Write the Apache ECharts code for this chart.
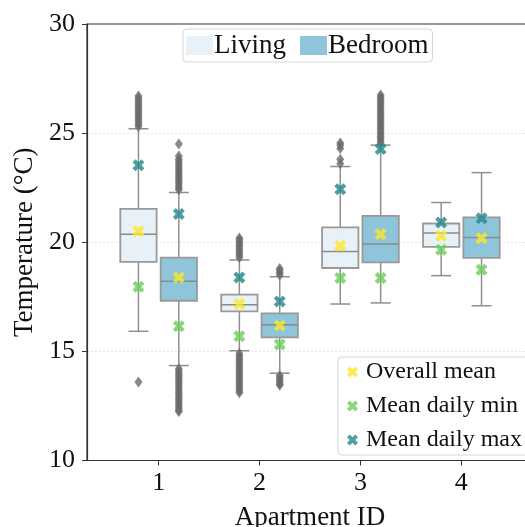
<!DOCTYPE html>
<html>
<head>
<meta charset="utf-8">
<script src="https://cdn.jsdelivr.net/npm/echarts@6/dist/echarts.min.js"></script>
<style>html,body{margin:0;padding:0;background:#fff}#c{width:525px;height:527px}</style>
</head>
<body>
<div id="c"></div>
<script>
const apartments = [1, 2, 3, 4];
const yTicks = [10, 15, 20, 25, 30];
// [lowWhisker, q1, median, q3, highWhisker]
const livingBox = [[15.92, 19.1, 20.37, 21.53, 25.2], [15.03, 16.83, 17.14, 17.6, 19.19], [17.17, 18.82, 19.58, 20.68, 23.47], [18.47, 19.79, 20.42, 20.86, 21.82]];
const bedroomBox = [[14.35, 17.32, 18.21, 19.3, 22.28], [14.0, 15.64, 16.22, 16.74, 18.42], [17.22, 19.08, 19.92, 21.21, 24.45], [17.09, 19.28, 20.22, 21.14, 23.19]];
const livingMean = [20.5, 17.17, 19.84, 20.3];
const bedroomMean = [18.39, 16.18, 20.37, 20.18];
const livingMin = [17.96, 15.69, 18.36, 19.66];
const bedroomMin = [16.15, 15.31, 18.36, 18.74];
const livingMax = [23.53, 18.39, 22.43, 20.91];
const bedroomMax = [21.29, 17.28, 24.27, 21.1];
const livingOutliers = [
  [25.3, 25.4, 25.5, 25.6, 25.7, 25.8, 25.9, 26.0, 26.1, 26.2, 26.3, 26.4, 26.5, 26.6, 26.7, 13.6],
  [19.3, 19.4, 19.5, 19.6, 19.7, 19.8, 19.9, 20.0, 20.1, 20.2, 14.9, 14.8, 14.7, 14.6, 14.5, 14.4, 14.3, 14.2, 14.1, 14.0, 13.9, 13.8, 13.7, 13.6, 13.5, 13.4, 13.3, 13.2, 13.1],
  [23.6, 23.8, 24.3, 24.45, 24.55],
  []
];
const bedroomOutliers = [
  [22.4, 22.5, 22.6, 22.7, 22.8, 22.9, 23.0, 23.1, 23.2, 23.3, 23.4, 23.5, 23.6, 23.7, 23.8, 23.95, 24.5,
   14.2, 14.1, 14.0, 13.9, 13.8, 13.7, 13.6, 13.5, 13.4, 13.3, 13.2, 13.1, 13.0, 12.9, 12.8, 12.7, 12.6, 12.5, 12.4, 12.3, 12.25],
  [18.5, 18.6, 18.7, 18.8, 13.9, 13.8, 13.7, 13.6, 13.5, 13.45],
  [24.55, 24.65, 24.75, 24.85, 24.95, 25.05, 25.15, 25.25, 25.35, 25.45, 25.55, 25.65, 25.75, 25.85, 25.95, 26.05, 26.15, 26.25, 26.35, 26.45, 26.55, 26.65, 26.75],
  []
];

const OFF = 0.2;
const FONT = 'Liberation Serif';
const xPath = 'path://M0,2.5 L2.5,0 L5,2.5 L7.5,0 L10,2.5 L7.5,5 L10,7.5 L7.5,10 L5,7.5 L2.5,10 L0,7.5 L2.5,5 Z';

function boxData(boxes, off) {
  return boxes.map((b, i) => [apartments[i] + off].concat(b));
}
function ptData(vals, off) {
  return vals.map((v, i) => [apartments[i] + off, v]);
}
function outData(lists, off) {
  const out = [];
  lists.forEach((l, i) => l.forEach(v => out.push([apartments[i] + off, v])));
  return out;
}

function renderBox(fill) {
  return function (params, api) {
    const x = api.value(0);
    const lo = api.coord([x, api.value(1)]);
    const q1 = api.coord([x, api.value(2)]);
    const med = api.coord([x, api.value(3)]);
    const q3 = api.coord([x, api.value(4)]);
    const hi = api.coord([x, api.value(5)]);
    const w = api.size([0.36, 0])[0];
    const cap = w * 0.55;
    const cx = q1[0];
    const ls = { stroke: '#8f8f8f', lineWidth: 1.5 };
    return {
      type: 'group',
      children: [
        { type: 'line', shape: { x1: cx, y1: lo[1], x2: cx, y2: q1[1] }, style: ls },
        { type: 'line', shape: { x1: cx, y1: q3[1], x2: cx, y2: hi[1] }, style: ls },
        { type: 'line', shape: { x1: cx - cap / 2, y1: lo[1], x2: cx + cap / 2, y2: lo[1] }, style: ls },
        { type: 'line', shape: { x1: cx - cap / 2, y1: hi[1], x2: cx + cap / 2, y2: hi[1] }, style: ls },
        { type: 'rect', shape: { x: cx - w / 2, y: q3[1], width: w, height: q1[1] - q3[1] },
          style: { fill: fill, stroke: '#999999', lineWidth: 1.8 } },
        { type: 'line', shape: { x1: cx - w / 2, y1: med[1], x2: cx + w / 2, y2: med[1] }, style: { stroke: '#8a8a8a', lineWidth: 1.5 } }
      ]
    };
  };
}

const LIVING = '#e8f1f7';
const BEDROOM = '#8fc5db';
const chart = echarts.init(document.getElementById('c'));
chart.setOption({
  animation: false,
  backgroundColor: '#fff',
  grid: { left: 87, top: 24, width: 446, height: 436.5, show: true, borderColor: '#333', borderWidth: 1.2,
    backgroundColor: 'transparent', outerBoundsMode: 'none', containLabel: false, z: 10 },
  xAxis: {
    type: 'value', min: 0.29, max: 4.71,
    name: 'Apartment ID', nameLocation: 'middle', nameGap: 44,
    nameTextStyle: { fontFamily: FONT, fontSize: 27, color: '#111' },
    axisLine: { show: true, lineStyle: { color: '#333', width: 1.2 } },
    axisTick: { show: true, length: 5, customValues: apartments, lineStyle: { color: '#333' } },
    axisLabel: { customValues: apartments, fontFamily: FONT, fontSize: 26, color: '#111', margin: 10 },
    splitLine: { show: false }
  },
  yAxis: {
    type: 'value', min: 10, max: 30, interval: 5,
    name: 'Temperature (°C)', nameLocation: 'middle', nameGap: 47,
    nameTextStyle: { fontFamily: FONT, fontSize: 27, color: '#111' },
    axisLine: { show: true, lineStyle: { color: '#333', width: 1.2 } },
    axisTick: { show: true, length: 5, lineStyle: { color: '#333' } },
    axisLabel: { fontFamily: FONT, fontSize: 26, color: '#111', margin: 12, customValues: yTicks },
    splitLine: { show: true, showMinLine: false, showMaxLine: false, lineStyle: { color: '#dddddd', type: [2, 2], width: 0.8 } }
  },
  legend: [
    {
      data: ['Living', 'Bedroom'], left: 183, top: 29, icon: 'rect', itemWidth: 27, itemHeight: 19, itemGap: 14,
      borderColor: '#d6d6d6', borderWidth: 1, borderRadius: 4, padding: [3, 4, 3, 3],
      textStyle: { fontFamily: FONT, fontSize: 27, color: '#111', padding: [0, 0, 0, -4] }
    },
    {
      data: ['Overall mean', 'Mean daily min', 'Mean daily max'], orient: 'vertical', left: 338, top: 357,
      icon: xPath, itemWidth: 11, itemHeight: 11, itemGap: 10,
      borderColor: '#d6d6d6', borderWidth: 1, borderRadius: 4, padding: [3, 8, 3, 9],
      textStyle: { fontFamily: FONT, fontSize: 24, color: '#111', padding: [0, 0, 0, 3] }
    }
  ],
  series: [
    { name: 'Living', type: 'custom', renderItem: renderBox(LIVING), data: boxData(livingBox, -OFF),
      itemStyle: { color: LIVING }, encode: { x: 0, y: [1, 2, 3, 4, 5] }, z: 2 },
    { name: 'Bedroom', type: 'custom', renderItem: renderBox(BEDROOM), data: boxData(bedroomBox, OFF),
      itemStyle: { color: BEDROOM }, encode: { x: 0, y: [1, 2, 3, 4, 5] }, z: 2 },
    { name: 'outliers', type: 'scatter', symbol: 'diamond', symbolSize: [8, 11],
      itemStyle: { color: '#6b6b6b' }, data: outData(livingOutliers, -OFF).concat(outData(bedroomOutliers, OFF)), z: 3 },
    { name: 'Overall mean', type: 'scatter', symbol: xPath, symbolSize: 12, itemStyle: { color: '#fde725' },
      data: ptData(livingMean, -OFF).concat(ptData(bedroomMean, OFF)), z: 5 },
    { name: 'Mean daily min', type: 'scatter', symbol: xPath, symbolSize: 12, itemStyle: { color: '#6ccd5a' },
      data: ptData(livingMin, -OFF).concat(ptData(bedroomMin, OFF)), z: 5 },
    { name: 'Mean daily max', type: 'scatter', symbol: xPath, symbolSize: 12, itemStyle: { color: '#22878a' },
      data: ptData(livingMax, -OFF).concat(ptData(bedroomMax, OFF)), z: 5 }
  ]
});
</script>
</body>
</html>
